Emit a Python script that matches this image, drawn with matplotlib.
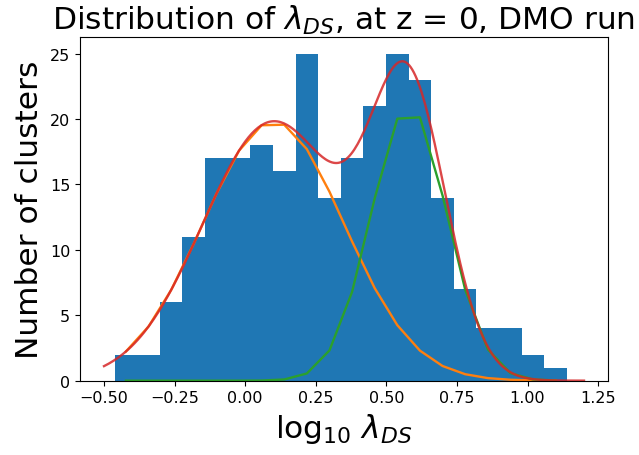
import numpy as np
import matplotlib
matplotlib.use('Agg')
import matplotlib.pyplot as plt

# histogram of log10 lambda_DS: 20 bins
bin_lo = -0.4625
bin_hi = 1.1396
counts = [2, 2, 6, 11, 17, 17, 18, 16, 25, 14,
          17, 21, 25, 23, 14, 7, 4, 4, 2, 1]

# two-gaussian fit (amplitude, mean, sigma)
g1 = (19.8, 0.10, 0.25)
g2 = (21.0, 0.58, 0.134)

x_fine = np.linspace(-0.5, 1.2, 300)


def gauss(x, a, mu, sig):
    return a * np.exp(-(x - mu)**2 / (2 * sig**2))


edges = np.linspace(bin_lo, bin_hi, len(counts) + 1)
centers = 0.5 * (edges[:-1] + edges[1:])

fig = plt.figure(figsize=(6.39, 4.56), dpi=100)
ax = fig.add_axes([0.1252, 0.163, 0.8263, 0.753])

ax.hist(centers, bins=edges, weights=counts, color='C0')
ax.plot(centers, gauss(centers, *g1), color='C1', lw=1.7)
ax.plot(centers, gauss(centers, *g2), color='C2', lw=1.7)
ax.plot(x_fine, gauss(x_fine, *g1) + gauss(x_fine, *g2), color='C3', lw=1.7, alpha=0.85)

ax.set_title(r'Distribution of $\lambda_{DS}$, at z = 0, DMO run', fontsize=22.5)
ax.set_xlabel(r'$\log_{10}\,\lambda_{DS}$', fontsize=22.5)
ax.set_ylabel('Number of clusters', fontsize=22.5)
ax.tick_params(labelsize=11.5)

fig.savefig('out.png', dpi=100)
